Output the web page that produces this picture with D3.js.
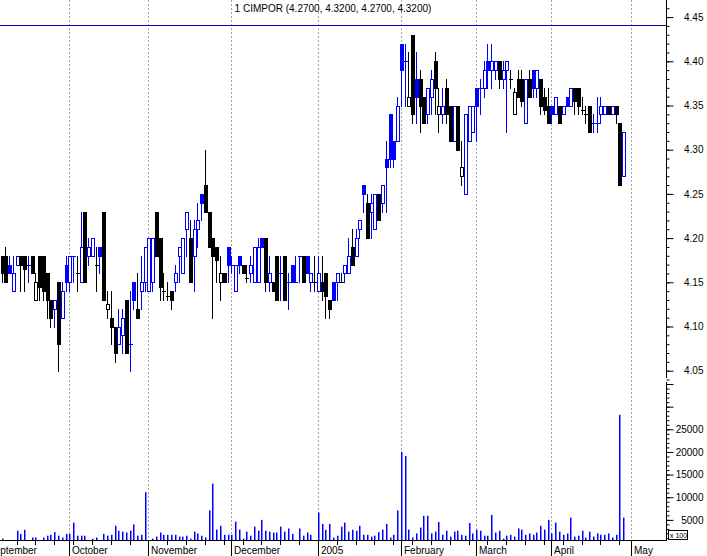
<!DOCTYPE html>
<html lang="en">
<head>
<meta charset="UTF-8">
<title>CIMPOR</title>
<script src="https://d3js.org/d3.v7.min.js"></script>
<style>
  body { margin: 0; background: #fff; }
  svg { display: block; font-family: "Liberation Sans", Arial, sans-serif; }
</style>
</head>
<body>
<svg id="chart" width="707" height="556"></svg>
<script>
// daily prices, Sep 2004 - Apr 2005
const open = [4.18,4.18,4.17,4.14,4.17,4.18,4.18,4.17,4.18,4.13,4.18,4.18,4.16,4.13,4.12,4.15,4.11,4.17,4.15,4.18,
  4.16,4.15,4.23,4.18,4.18,4.17,4.19,4.23,4.12,4.11,4.10,4.08,4.09,4.13,4.08,4.15,4.12,4.14,4.15,4.14,
  4.15,4.23,4.20,4.14,4.135,4.14,4.15,4.18,4.16,4.21,4.20,4.18,4.21,4.25,4.26,4.23,4.20,4.19,4.15,4.16,
  4.19,4.17,4.14,4.18,4.17,4.155,4.16,4.15,4.15,4.20,4.20,4.15,4.15,4.18,4.16,4.18,4.15,4.17,4.15,4.18,
  4.18,4.18,4.15,4.15,4.14,4.15,4.16,4.13,4.15,4.15,4.15,4.16,4.16,4.19,4.18,4.21,4.26,4.24,4.23,4.21,
  4.25,4.24,4.29,4.34,4.31,4.31,4.42,4.40,4.35,4.43,4.38,4.38,4.36,4.34,4.36,4.40,4.34,4.34,4.37,4.35,
  4.31,4.35,4.27,4.25,4.31,4.32,4.37,4.37,4.37,4.40,4.39,4.39,4.40,4.38,4.39,4.38,4.34,4.38,4.38,4.33,
  4.38,4.39,4.37,4.38,4.36,4.35,4.35,4.34,4.35,4.34,4.36,4.35,4.37,4.37,4.345,4.34,4.35,4.33,4.33,4.34,
  4.34,4.35,4.34,4.35,4.33,4.27];
const high = [4.18,4.19,4.18,4.18,4.18,4.18,4.18,4.18,4.18,4.16,4.18,4.18,4.16,4.13,4.13,4.15,4.15,4.18,4.18,4.18,
  4.18,4.23,4.23,4.20,4.20,4.19,4.19,4.23,4.14,4.14,4.10,4.12,4.12,4.13,4.14,4.15,4.16,4.18,4.19,4.20,
  4.20,4.23,4.20,4.16,4.15,4.14,4.17,4.19,4.20,4.23,4.22,4.22,4.24,4.25,4.30,4.23,4.20,4.19,4.18,4.16,
  4.19,4.18,4.17,4.18,4.17,4.17,4.18,4.19,4.20,4.20,4.20,4.18,4.15,4.18,4.18,4.18,4.16,4.17,4.18,4.18,
  4.18,4.18,4.16,4.18,4.18,4.18,4.16,4.13,4.15,4.16,4.16,4.17,4.20,4.21,4.21,4.22,4.26,4.25,4.25,4.25,
  4.25,4.26,4.31,4.34,4.31,4.36,4.42,4.42,4.41,4.43,4.41,4.39,4.36,4.37,4.39,4.41,4.37,4.37,4.38,4.35,
  4.35,4.35,4.31,4.34,4.35,4.35,4.37,4.38,4.40,4.42,4.42,4.40,4.40,4.40,4.40,4.39,4.37,4.39,4.39,4.38,
  4.39,4.39,4.39,4.38,4.37,4.37,4.35,4.36,4.35,4.35,4.36,4.37,4.37,4.37,4.36,4.35,4.35,4.34,4.36,4.36,
  4.35,4.35,4.35,4.35,4.33,4.32];
const low = [4.15,4.15,4.16,4.14,4.17,4.14,4.14,4.15,4.16,4.13,4.13,4.13,4.11,4.10,4.10,4.05,4.11,4.14,4.14,4.15,
  4.14,4.15,4.15,4.17,4.18,4.14,4.16,4.13,4.11,4.08,4.06,4.08,4.07,4.07,4.05,4.12,4.11,4.12,4.14,4.14,
  4.14,4.18,4.13,4.13,4.13,4.12,4.14,4.15,4.16,4.18,4.15,4.14,4.19,4.22,4.23,4.19,4.11,4.15,4.13,4.15,
  4.15,4.16,4.14,4.16,4.16,4.15,4.15,4.15,4.15,4.19,4.14,4.14,4.14,4.13,4.13,4.13,4.12,4.15,4.15,4.15,
  4.15,4.16,4.14,4.14,4.14,4.13,4.11,4.11,4.13,4.13,4.15,4.15,4.16,4.17,4.18,4.20,4.23,4.20,4.20,4.21,
  4.22,4.23,4.23,4.28,4.28,4.31,4.35,4.35,4.35,4.33,4.33,4.32,4.33,4.33,4.34,4.34,4.32,4.33,4.33,4.31,
  4.31,4.30,4.26,4.25,4.31,4.32,4.31,4.34,4.36,4.37,4.37,4.38,4.37,4.37,4.32,4.37,4.34,4.36,4.35,4.33,
  4.36,4.36,4.36,4.34,4.34,4.33,4.33,4.34,4.33,4.34,4.35,4.35,4.34,4.34,4.34,4.33,4.32,4.32,4.32,4.33,
  4.34,4.34,4.34,4.33,4.26,4.27];
const close = [4.16,4.15,4.16,4.16,4.18,4.17,4.165,4.17,4.16,4.15,4.145,4.14,4.13,4.11,4.13,4.08,4.14,4.15,4.18,4.18,
  4.16,4.19,4.15,4.19,4.20,4.17,4.18,4.13,4.125,4.10,4.07,4.10,4.11,4.07,4.08,4.13,4.11,4.15,4.19,4.20,
  4.20,4.18,4.145,4.14,4.135,4.13,4.16,4.19,4.20,4.23,4.15,4.21,4.22,4.24,4.23,4.19,4.18,4.175,4.16,4.15,
  4.17,4.17,4.17,4.17,4.16,4.155,4.17,4.19,4.19,4.19,4.15,4.16,4.14,4.13,4.16,4.13,4.15,4.15,4.15,4.18,
  4.15,4.16,4.16,4.15,4.16,4.14,4.135,4.12,4.13,4.16,4.15,4.17,4.18,4.17,4.20,4.22,4.25,4.20,4.24,4.25,
  4.22,4.26,4.28,4.29,4.29,4.35,4.39,4.40,4.36,4.34,4.36,4.35,4.33,4.37,4.38,4.37,4.35,4.35,4.34,4.31,
  4.35,4.30,4.28,4.34,4.35,4.35,4.35,4.37,4.39,4.39,4.40,4.40,4.38,4.39,4.40,4.38,4.365,4.36,4.355,4.38,
  4.36,4.37,4.39,4.35,4.345,4.33,4.34,4.36,4.33,4.35,4.35,4.37,4.355,4.35,4.345,4.34,4.32,4.33,4.33,4.35,
  4.35,4.34,4.35,4.34,4.26,4.32];
// volume in hundreds of shares
const volume = [850,400,300,400,2600,1900,2800,300,1100,1100,400,1100,1500,1700,2300,1500,1100,1900,1900,4400,
  1500,1500,1500,400,850,1100,400,1900,1500,1700,3700,2600,2400,2200,2600,4000,1500,1700,11100,300,
  850,1300,2200,1700,1700,1700,1700,1300,1300,1500,850,2400,2000,1500,1100,7100,13000,2850,3700,1700,
  1700,1700,4600,2850,850,2400,1500,3500,2600,5000,2600,2400,2200,2200,3500,2400,3100,1900,400,3100,
  1500,2200,1700,400,6600,4100,2800,4100,1100,1500,3500,4400,2400,2800,2600,3700,1700,1700,1300,1500,
  2300,2850,4100,1100,1700,7100,20000,19100,2850,1100,2000,3300,5900,5900,2000,2400,4550,1700,2600,1300,
  2400,2600,1700,1500,4300,2000,2800,2600,1500,1500,6100,2200,2600,850,1500,1700,1300,3100,2850,1700,
  2000,1700,2200,3700,2850,5000,2000,4400,2400,1700,2000,5500,1300,1500,2600,1100,2400,1300,2000,1700,
  1700,2000,1100,1700,28200,5500];

const monthNames = ["September", "October", "November", "December", "2005", "February", "March", "April", "May"];
const monthStart = [-4.4, 18, 39, 61, 84, 106, 126, 146, 167];
const priceTicks = [4.05, 4.10, 4.15, 4.20, 4.25, 4.30, 4.35, 4.40, 4.45];
const volumeTicks = [5000, 10000, 15000, 20000, 25000];
const title = "1 CIMPOR (4.2700, 4.3200, 4.2700, 4.3200)";

const svg = d3.select("#chart");
const plotRight = 666;
const blue = "#0000ff";

const x = d3.scaleLinear().domain([0, 1]).range([1.5, 1.5 + 3.767]);
const y = d3.scaleLinear().domain([4.05, 4.45]).range([370.7, 17.1]);
const yv = d3.scaleLinear().domain([0, 25000]).range([542.5, 429.3]);
const px = i => Math.round(x(i));

// month separators
svg.append("g").selectAll("line")
  .data(monthStart.filter(d => x(d) > 0 && x(d) < plotRight))
  .enter().append("line")
  .attr("x1", d => px(d) + 0.5).attr("x2", d => px(d) + 0.5)
  .attr("y1", 0).attr("y2", 540)
  .attr("stroke", "#a3a3b3").attr("stroke-dasharray", "2,2");

// title and top line
svg.append("text").attr("x", plotRight / 2).attr("y", 12)
  .attr("text-anchor", "middle").attr("font-size", "10px").text(title);
svg.append("line").attr("x1", 0).attr("x2", plotRight).attr("y1", 25.5).attr("y2", 25.5)
  .attr("stroke", "#0000c8");

// candles
const candles = close.map((c, i) => ({
  i, o: open[i], h: high[i], l: low[i], c,
  color: c >= (i ? close[i - 1] : open[i]) ? blue : "#000"
}));

const g = svg.append("g");
g.selectAll(".wick")
  .data(candles)
  .enter().append("line")
  .attr("class", "wick")
  .attr("x1", d => px(d.i) + 0.5).attr("x2", d => px(d.i) + 0.5)
  .attr("y1", d => Math.round(y(d.h))).attr("y2", d => Math.round(y(d.l)) + 1)
  .attr("stroke", d => d.color);

g.selectAll(".body")
  .data(candles)
  .enter().append("rect")
  .attr("class", "body")
  .each(function(d) {
    const top = Math.round(y(Math.max(d.o, d.c)));
    const bot = Math.round(y(Math.min(d.o, d.c)));
    const r = d3.select(this);
    if (d.c < d.o) {
      r.attr("x", px(d.i) - 1).attr("width", 4)
        .attr("y", top).attr("height", Math.max(1, bot - top + 1))
        .attr("fill", d.color);
    } else if (d.c > d.o) {
      r.attr("x", px(d.i) - 0.5).attr("width", 3)
        .attr("y", top + 0.5).attr("height", Math.max(1, bot - top))
        .attr("fill", "#fff").attr("stroke", d.color);
    } else {
      r.attr("x", px(d.i) - 1).attr("width", 4)
        .attr("y", top).attr("height", 1)
        .attr("fill", d.color);
    }
  });

// volume bars
svg.append("g").selectAll("rect")
  .data(volume)
  .enter().append("rect")
  .attr("x", (d, i) => px(i))
  .attr("width", 1.5)
  .attr("y", d => yv(d))
  .attr("height", d => 540 - yv(d))
  .attr("fill", blue);

// price axis
const priceMinor = d3.range(404, 447).map(d => d / 100);
svg.append("g")
  .attr("transform", `translate(${plotRight + 0.5},0)`)
  .call(d3.axisRight(y).tickValues(priceMinor).tickSize(3).tickFormat(""))
  .call(a => a.select(".domain").remove());
const pAxis = svg.append("g")
  .attr("transform", `translate(${plotRight + 0.5},0)`)
  .call(d3.axisRight(y).tickValues(priceTicks).tickSize(7).tickFormat(d3.format(".2f")));
pAxis.select(".domain").remove();
pAxis.selectAll("text").attr("x", 37).attr("text-anchor", "end")
  .attr("font-size", "10px").attr("font-family", "Liberation Sans, Arial, sans-serif");
svg.append("line").attr("x1", plotRight + 0.5).attr("x2", plotRight + 0.5)
  .attr("y1", 0).attr("y2", 378).attr("stroke", "#000");

// volume axis
const volMinor = d3.range(1000, 36000, 1000);
svg.append("g")
  .attr("transform", `translate(${plotRight + 0.5},0)`)
  .call(d3.axisRight(yv).tickValues(volMinor.filter(v => yv(v) > 384)).tickSize(3).tickFormat(""))
  .call(a => a.select(".domain").remove());
const vAxis = svg.append("g")
  .attr("transform", `translate(${plotRight + 0.5},0)`)
  .call(d3.axisRight(yv).tickValues([5000, 10000, 15000, 20000, 25000, 30000, 35000]).tickSize(7)
    .tickFormat(d => volumeTicks.includes(d) ? d : ""));
vAxis.select(".domain").remove();
vAxis.selectAll("text").attr("x", 37).attr("text-anchor", "end")
  .attr("font-size", "10px").attr("font-family", "Liberation Sans, Arial, sans-serif");
svg.append("line").attr("x1", plotRight + 0.5).attr("x2", plotRight + 0.5)
  .attr("y1", 382).attr("y2", 540).attr("stroke", "#000");

// "x 100" unit box
svg.append("rect").attr("x", 668.5).attr("y", 530.5).attr("width", 19).attr("height", 9)
  .attr("fill", "#fff").attr("stroke", "#000");
svg.append("text").attr("x", 670).attr("y", 538).attr("font-size", "7px").text("x 100");

// time axis
svg.append("line").attr("x1", 0).attr("x2", plotRight + 1).attr("y1", 540.5).attr("y2", 540.5)
  .attr("stroke", "#000");
const weekTicks = d3.range(4, 166, 5);
svg.append("g").selectAll("line")
  .data(weekTicks)
  .enter().append("line")
  .attr("x1", d => px(d) + 0.5).attr("x2", d => px(d) + 0.5)
  .attr("y1", 540).attr("y2", 545).attr("stroke", "#000");
svg.append("g").selectAll("line")
  .data(monthStart)
  .enter().append("line")
  .attr("x1", d => px(d) + 0.5).attr("x2", d => px(d) + 0.5)
  .attr("y1", 540).attr("y2", 556).attr("stroke", "#000");
svg.append("g").selectAll("text")
  .data(monthNames)
  .enter().append("text")
  .attr("x", (d, i) => px(monthStart[i]) + 3)
  .attr("y", 554)
  .attr("font-size", "10px")
  .text(d => d);
</script>
</body>
</html>
